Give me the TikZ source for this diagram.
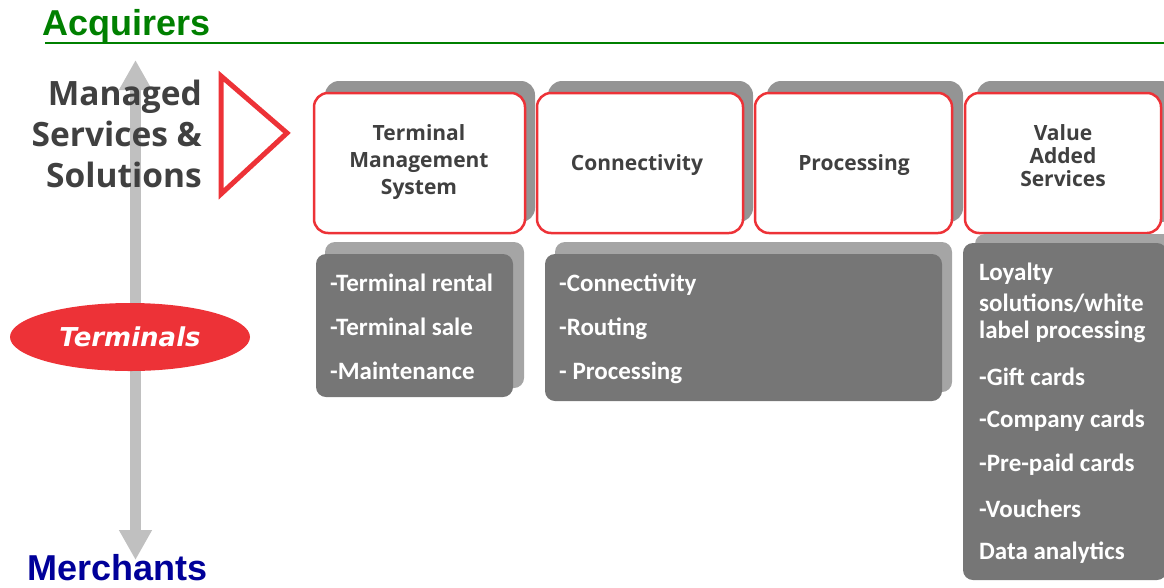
\documentclass[tikz,border=0pt]{standalone}
\usepackage{fontspec}
\setmainfont{Open Sans}
\newfontfamily\calfont{Carlito}
\newfontfamily\arialfont{Liberation Sans}
\newfontfamily\verdfont{DejaVu Sans}
\usetikzlibrary{shapes.geometric, arrows.meta, positioning}
\definecolor{acqgreen}{RGB}{0,128,0}
\definecolor{merchblue}{RGB}{0,0,153}
\definecolor{boxred}{RGB}{237,50,55}
\definecolor{darktext}{RGB}{64,64,64}
\definecolor{listgray}{RGB}{118,118,118}
\definecolor{shadegray}{RGB}{148,148,148}
\definecolor{listshade}{RGB}{165,165,165}
\definecolor{axisgray}{RGB}{192,192,192}

\tikzset{
  topbox/.style={draw=boxred, line width=2.5pt, fill=white, rounded corners=14pt,
    minimum height=140pt, inner sep=0pt},
  toplabel/.style={inner sep=0pt, align=center, text=darktext,
    font=\fontsize{21}{27}\selectfont\bfseries},
  topshade/.style={fill=shadegray, rounded corners=14pt},
  listbox/.style={fill=listgray, rounded corners=10pt, inner sep=0pt},
  listshade/.style={fill=listshade, rounded corners=10pt},
  item/.style={anchor=west, inner sep=0pt, text=white,
    font=\calfont\fontsize{25}{29}\selectfont\bfseries},
}

\begin{document}
\begin{tikzpicture}[x=1pt, y=-1pt]
    \useasboundingbox (0,0) rectangle (1164,587);

    % Acquirers / Merchants axis
    \node[anchor=base west, inner sep=0pt, text=acqgreen, font=\arialfont\fontsize{36}{40}\selectfont\bfseries] (acq) at (42,35) {Acquirers};
    \draw[acqgreen, line width=2pt] (45,43) -- (1164,43);
    \coordinate (axtop) at (135.5,60);
    \coordinate (axbot) at (135.5,560);
    \draw[axisgray, line width=11pt, {Triangle[width=31pt,length=30pt]}-{Triangle[width=31pt,length=30pt]}] (axtop) -- (axbot);
    \node[anchor=base west, inner sep=0pt, text=merchblue, font=\arialfont\fontsize{36}{40}\selectfont\bfseries] (merch) at (27,580) {Merchants};

    % Managed services
    \node[anchor=east, inner sep=0pt, align=right, text=darktext, font=\fontsize{33.5}{41}\selectfont\bfseries] (mss) at (202,134) {Managed\\Services \&\\Solutions};
    \draw[boxred, line width=5pt] (221,76) -- (221,194) -- (287,133) -- cycle;

    % Terminals
    \node[ellipse, fill=boxred, minimum width=240pt, minimum height=68pt, inner sep=0pt, text=white, font=\verdfont\fontsize{26}{30}\selectfont\bfseries\itshape] (term) at (130,337) {Terminals};

    % Top boxes
    \fill[topshade] (325,81) rectangle (535,222);
    \fill[topshade] (548,81) rectangle (753,222);
    \fill[topshade] (767,81) rectangle (963,222);
    \fill[topshade] (977,81) rectangle (1175,222);
    \node[topbox, minimum width=211pt] (tms) at (419.5,163) {};
    \node[topbox, minimum width=206pt] (conn) at (640,163) {};
    \node[topbox, minimum width=197pt] (proc) at (853.5,163) {};
    \node[topbox, minimum width=196pt] (vas) at (1063,163) {};
    \node[toplabel] (tmstext) at (419,162) {Terminal\\Management\\System};
    \node[toplabel] (conntext) at (637,165) {Connectivity};
    \node[toplabel] (proctext) at (854,165) {Processing};
    \node[toplabel, font=\fontsize{21}{23}\selectfont\bfseries] (vastext) at (1063,156) {Value\\Added\\Services};

    % Lists
    \fill[listshade] (325,242) rectangle (524,388);
    \fill[listshade] (555,242) rectangle (952,392);
    \fill[listshade] (975,234) rectangle (1176,570);
    \node[listbox, minimum width=197pt, minimum height=143pt] (lista) at (414.5,325.5) {};
    \node[listbox, minimum width=397pt, minimum height=147pt] (listb) at (743.5,327.5) {};
    \node[listbox, minimum width=204pt, minimum height=337pt] (listc) at (1065,411.5) {};

    \node[item] (a1) at (330,283) {-Terminal rental};
    \node[item] (a2) at (330,327) {-Terminal sale};
    \node[item] (a3) at (330,371) {-Maintenance};

    \node[item] (b1) at (559,285) {-Connectivity};
    \node[item] (b2) at (559,329) {-Routing};
    \node[item] (b3) at (559,373) {- Processing};

    \node[item] (c1) at (979,274) {Loyalty};
    \node[item] (c2) at (979,303) {solutions/white};
    \node[item] (c3) at (979,332) {label processing};
    \node[item] (c4) at (979,377) {-Gift cards};
    \node[item] (c5) at (979,421) {-Company cards};
    \node[item] (c6) at (979,465) {-Pre-paid cards};
    \node[item] (c7) at (979,509) {-Vouchers};
    \node[item] (c8) at (979,553) {Data analytics};
\end{tikzpicture}
\end{document}
